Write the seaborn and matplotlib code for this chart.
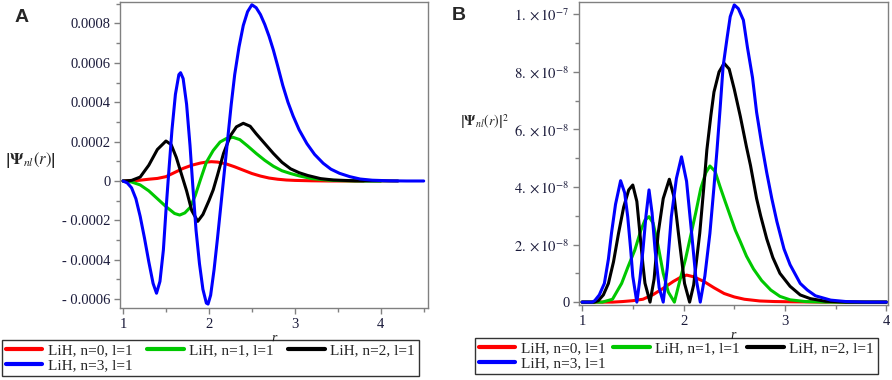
import numpy as np
import pandas as pd
import matplotlib
matplotlib.use('Agg')
import matplotlib.pyplot as plt
from matplotlib.ticker import MultipleLocator, FixedLocator, FixedFormatter
import seaborn as sns

# =====================================================================
# DATA
# panel A: psi_nl(r) in units of 1e-4, panel B: |psi_nl(r)|^2 in units of 1e-8
# =====================================================================
labels = ['LiH, n=0, l=1', 'LiH, n=1, l=1', 'LiH, n=2, l=1', 'LiH, n=3, l=1']
colors = ['#ff0000', '#00c800', '#000000', '#0000ff']

# --- A ---
r_a0 = [1.0, 1.1, 1.2, 1.3, 1.4, 1.5, 1.6, 1.7, 1.8, 1.9, 1.97, 2.03, 2.1, 2.2, 2.3, 2.4,
        2.5, 2.6, 2.7, 2.8, 2.9, 3.0, 3.2, 3.4, 3.8]
psi_a0 = [0, 0.01, 0.04, 0.09, 0.13, 0.22, 0.43, 0.64, 0.8, 0.91, 0.96, 0.98, 0.96, 0.87, 0.72, 0.55,
          0.38, 0.25, 0.15, 0.09, 0.05, 0.03, 0.01, 0.0, 0.0]

r_a1 = [1.0, 1.1, 1.2, 1.3, 1.4, 1.5, 1.6, 1.66, 1.72, 1.78, 1.84, 1.9, 1.97, 2.05, 2.13, 2.2,
        2.28, 2.36, 2.45, 2.55, 2.65, 2.75, 2.85, 2.95, 3.05, 3.2, 3.4, 3.6, 3.8, 4.0]
psi_a1 = [0, -0.05, -0.2, -0.5, -0.9, -1.3, -1.65, -1.73, -1.62, -1.35, -0.75, 0.05, 0.95, 1.55, 1.98, 2.15,
          2.22, 2.1, 1.78, 1.4, 1.05, 0.75, 0.52, 0.38, 0.26, 0.12, 0.04, 0.01, 0, 0]

r_a2 = [1.0, 1.1, 1.2, 1.3, 1.4, 1.5, 1.56, 1.62, 1.68, 1.74, 1.8, 1.87, 1.93, 2.0, 2.05, 2.1,
        2.17, 2.25, 2.32, 2.4, 2.48, 2.55, 2.65, 2.75, 2.85, 2.95, 3.05, 3.15, 3.3, 3.45, 3.7, 4.2]
psi_a2 = [0, 0.03, 0.2, 0.8, 1.6, 2.03, 1.85, 1.2, 0.35, -0.5, -1.5, -2.05, -1.7, -1.0, -0.45, 0.3,
          1.4, 2.3, 2.75, 2.93, 2.78, 2.4, 1.9, 1.4, 0.95, 0.62, 0.42, 0.28, 0.12, 0.05, 0.01, 0]

r_a3 = [1.0, 1.05, 1.1, 1.15, 1.2, 1.25, 1.3, 1.35, 1.39, 1.43, 1.47, 1.5, 1.53, 1.57, 1.61, 1.65,
        1.67, 1.7, 1.74, 1.78, 1.81, 1.85, 1.89, 1.93, 1.97, 1.99, 2.02, 2.06, 2.1, 2.14, 2.18, 2.22,
        2.26, 2.3, 2.35, 2.4, 2.45, 2.5, 2.55, 2.6, 2.65, 2.7, 2.75, 2.8, 2.86, 2.92, 2.98, 3.05,
        3.14, 3.23, 3.33, 3.42, 3.52, 3.64, 3.76, 3.9, 4.1, 4.3, 4.5]
psi_a3 = [0, -0.1, -0.35, -0.9, -1.8, -2.9, -4.1, -5.2, -5.7, -5.1, -3.5, -1.5, 0.3, 2.6, 4.4, 5.4,
          5.5, 5.2, 3.9, 1.8, -0.1, -2.5, -4.2, -5.5, -6.2, -6.25, -5.8, -4.5, -2.9, -1.2, 0.5, 2.2,
          3.9, 5.4, 6.8, 7.9, 8.6, 8.95, 8.8, 8.45, 7.95, 7.35, 6.65, 5.85, 4.85, 4.0, 3.3, 2.6,
          1.9, 1.35, 0.9, 0.6, 0.39, 0.22, 0.1, 0.04, 0.01, 0, 0]

# --- B ---
r_b0 = [1.0, 1.3, 1.4, 1.5, 1.6, 1.65, 1.7, 1.8, 1.9, 1.97, 2.03, 2.1, 2.2, 2.3, 2.4, 2.5,
        2.6, 2.75, 2.9, 3.1, 3.4, 4.0]
psi_b0 = [0, 0, 0.02, 0.05, 0.1, 0.18, 0.26, 0.48, 0.72, 0.86, 0.94, 0.88, 0.72, 0.5, 0.3, 0.18,
          0.1, 0.04, 0.02, 0.01, 0, 0]

r_b1 = [1.0, 1.2, 1.3, 1.39, 1.45, 1.52, 1.58, 1.62, 1.66, 1.7, 1.75, 1.8, 1.85, 1.91, 1.96, 2.02,
        2.07, 2.12, 2.17, 2.22, 2.26, 2.31, 2.36, 2.41, 2.46, 2.51, 2.56, 2.62, 2.69, 2.77, 2.86,
        2.95, 3.05, 3.2, 3.4, 4.0]
psi_b1 = [0, 0, 0.1, 0.65, 1.2, 1.81, 2.5, 2.85, 2.97, 2.75, 1.95, 1.0, 0.35, 0, 0.7, 1.5,
          2.3, 3.1, 3.95, 4.5, 4.73, 4.55, 4.01, 3.5, 3.0, 2.5, 2.1, 1.6, 1.15, 0.75, 0.42,
          0.2, 0.08, 0.02, 0, 0]

r_b2 = [1.0, 1.12, 1.16, 1.21, 1.26, 1.31, 1.36, 1.41, 1.46, 1.5, 1.54, 1.57, 1.6, 1.62, 1.67,
        1.71, 1.75, 1.8, 1.86, 1.91, 1.95, 2.01, 2.06, 2.1, 2.16, 2.2, 2.23, 2.27, 2.3, 2.35, 2.4,
        2.45, 2.5, 2.56, 2.62, 2.66, 2.72, 2.76, 2.82, 2.88, 2.95, 3.05, 3.15, 3.25, 3.4, 3.6, 4.0]
psi_b2 = [0, 0, 0.05, 0.25, 0.65, 1.4, 2.4, 3.3, 3.9, 4.07, 3.5, 2.4, 1.3, 0.66, 0,
          0.8, 2.39, 3.6, 4.27, 3.6, 2.39, 0.65, 0, 0.6, 2.4, 4.0, 5.29, 6.5, 7.3, 8.0, 8.3,
          8.1, 7.4, 6.45, 5.4, 4.75, 3.6, 3.0, 2.2, 1.55, 1.0, 0.55, 0.25, 0.12, 0.03, 0, 0]

r_b3 = [1.0, 1.1, 1.125, 1.17, 1.22, 1.26, 1.29, 1.33, 1.38, 1.42, 1.45, 1.48, 1.5, 1.54,
        1.57, 1.6, 1.63, 1.66, 1.69, 1.72, 1.76, 1.8, 1.84, 1.88, 1.93, 1.98, 2.03, 2.08, 2.12,
        2.165, 2.21, 2.26, 2.3, 2.33, 2.36, 2.39, 2.43, 2.46, 2.5, 2.54, 2.59, 2.63, 2.68, 2.72,
        2.77, 2.82, 2.87, 2.92, 2.99, 3.05, 3.15, 3.22, 3.3, 3.45, 3.6, 3.8, 4.0]
psi_b3 = [0, 0, 0.05, 0.25, 0.65, 1.5, 2.39, 3.4, 4.22, 3.8, 2.97, 1.8, 0.9, 0,
          0.8, 1.8, 3.0, 3.9, 3.1, 1.8, 0.5, 0, 1.2, 2.97, 4.3, 5.05, 4.2, 2.39, 0.9,
          0, 0.9, 2.39, 4.0, 5.29, 6.7, 8.19, 9.2, 9.92, 10.33, 10.2, 9.8, 8.85, 7.8, 6.6,
          5.5, 4.5, 3.6, 2.8, 1.85, 1.3, 0.65, 0.42, 0.22, 0.07, 0.02, 0, 0]

yticks_a = [-0.0006, -0.0004, -0.0002, 0, 0.0002, 0.0004, 0.0006, 0.0008]
ylabels_a = ['- 0.0006', '- 0.0004', '- 0.0002', '0', '0.0002', '0.0004', '0.0006', '0.0008']
yticks_b = [0, 2e-8, 4e-8, 6e-8, 8e-8, 1e-7]
ylabels_b = ['0', r'$2.\times10^{-8}$', r'$4.\times10^{-8}$', r'$6.\times10^{-8}$',
             r'$8.\times10^{-8}$', r'$1.\times10^{-7}$']
xticks = [1, 2, 3, 4]


def make_df(rs, vals, scale):
    rows = []
    for lab, r, v in zip(labels, rs, vals):
        for ri, vi in zip(r, v):
            rows.append({'r': ri, 'psi': vi * scale, 'state': lab})
    return pd.DataFrame(rows)


df_a = make_df([r_a0, r_a1, r_a2, r_a3], [psi_a0, psi_a1, psi_a2, psi_a3], 1e-4)
df_b = make_df([r_b0, r_b1, r_b2, r_b3], [psi_b0, psi_b1, psi_b2, psi_b3], 1e-8)

sns.set_style('white')
plt.rcParams['font.family'] = ['Liberation Serif', 'DejaVu Serif']
plt.rcParams['mathtext.fontset'] = 'stix'

fig = plt.figure(figsize=(8.92, 3.8), dpi=100)
ax_a = fig.add_axes([120 / 892, 1 - 308 / 380, 308 / 892, 306 / 380])
ax_b = fig.add_axes([579 / 892, 1 - 305 / 380, 309 / 892, 303 / 380])

pal = dict(zip(labels, colors))
for ax, df in [(ax_a, df_a), (ax_b, df_b)]:
    sns.lineplot(data=df, x='r', y='psi', hue='state', palette=pal, hue_order=labels,
                 estimator=None, errorbar=None, linewidth=2.2, ax=ax, legend=True)

ax_a.set_xlim(0.965, 4.55)
ax_a.set_ylim(-0.000645, 0.000909)
ax_b.set_xlim(0.97, 4.015)
ax_b.set_ylim(-0.1e-8, 1.043e-7)

ax_a.yaxis.set_major_locator(FixedLocator(yticks_a))
ax_a.yaxis.set_major_formatter(FixedFormatter(ylabels_a))
ax_a.yaxis.set_minor_locator(MultipleLocator(0.0001))
ax_b.yaxis.set_major_locator(FixedLocator(yticks_b))
ax_b.yaxis.set_major_formatter(FixedFormatter(ylabels_b))
ax_b.yaxis.set_minor_locator(MultipleLocator(1e-8))

for ax in (ax_a, ax_b):
    ax.xaxis.set_major_locator(FixedLocator(xticks))
    ax.xaxis.set_major_formatter(FixedFormatter([str(t) for t in xticks]))
    ax.xaxis.set_minor_locator(MultipleLocator(0.5))
    ax.tick_params(which='both', direction='out', color='#808080', labelsize=10.5,
                   labelcolor='#1a1a3a', bottom=True, left=True)
    ax.tick_params(which='major', length=4, width=1, pad=3)
    ax.tick_params(which='minor', length=3, width=1)
    for s in ax.spines.values():
        s.set_color('#808080')
        s.set_linewidth(1)
    ax.set_xlabel('r', style='italic', fontsize=10, labelpad=1)
    ax.set_ylabel('')
    ax.legend_.remove()

# legend: reorder so rows read n=0, n=1, n=2 / n=3
order = [0, 3, 1, 2]
for ax, x0, y0, cs in [(ax_a, 2, 340, 0.95), (ax_b, 475, 338, 0.5)]:
    h, l = ax.get_legend_handles_labels()
    leg = fig.legend([h[i] for i in order], [l[i] for i in order], ncol=3,
                     loc='upper left', bbox_to_anchor=(x0 / 892, 1 - y0 / 380),
                     frameon=True, fancybox=False, edgecolor='black', fontsize=11,
                     handlelength=2.4, handletextpad=0.35, columnspacing=cs,
                     labelspacing=0.05, borderpad=0.25, borderaxespad=0)
    leg.get_frame().set_linewidth(1)
    for ln in leg.get_lines():
        ln.set_linewidth(3)

fig.text(5 / 892, 1 - 160 / 380, r'$\left|\mathbf{\Psi}_{nl}(r)\right|$', fontsize=12,
         ha='left', va='center')
fig.text(460 / 892, 1 - 122 / 380, r'$\left|\mathbf{\Psi}_{nl}(r)\right|^2$', fontsize=10,
         ha='left', va='center')
fig.text(22 / 892, 1 - 18 / 380, 'A', fontsize=14, fontweight='bold',
         family='Liberation Sans', ha='center', va='center')
fig.text(459 / 892, 1 - 15 / 380, 'B', fontsize=14, fontweight='bold',
         family='Liberation Sans', ha='center', va='center')

fig.savefig('out.png', dpi=100)
